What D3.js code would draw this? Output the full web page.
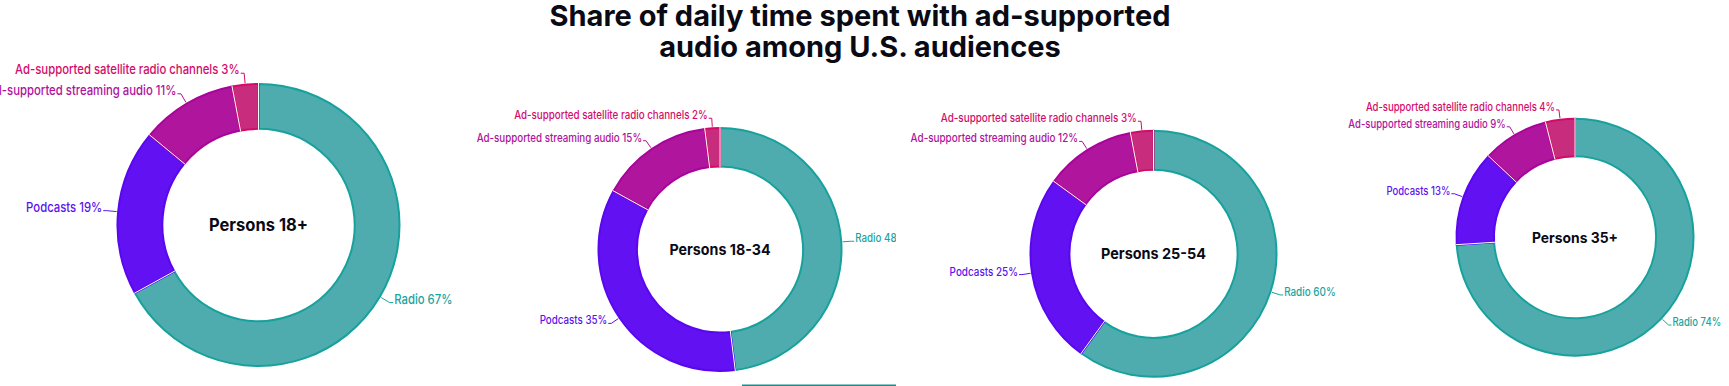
<!DOCTYPE html>
<html>
<head>
<meta charset="utf-8">
<script src="https://cdn.jsdelivr.net/npm/d3@7"></script>
<style>
  html, body { margin: 0; padding: 0; background: #ffffff; }
  svg { display: block; }
  text { font-family: Inter, "Noto Sans", sans-serif; }
</style>
</head>
<body>
<svg id="chart" width="1729" height="386"></svg>
<script>
// ---------------- DATA ----------------
const titleLines = ["Share of daily time spent with ad-supported", "audio among U.S. audiences"];
const categories = ["Radio", "Podcasts", "Ad-supported streaming audio", "Ad-supported satellite radio channels"];
const audiences = ["Persons 18+", "Persons 18-34", "Persons 25-54", "Persons 35+"];
const radio     = [67, 48, 60, 74];
const podcasts  = [19, 35, 25, 13];
const streaming = [11, 15, 12, 9];
const satellite = [3, 2, 3, 4];

// ---------------- STYLE / LAYOUT ----------------
const fills   = ["#4eacae", "#6211f2", "#af159d", "#c82c7c"];
const borders = ["#17a19d", "#5a06ee", "#a8049a", "#d40a6b"];
const labelColors = ["#1ba39e", "#5a12ee", "#b0129c", "#d40b6a"];
const panels = [
  { cx: 258.5, cy: 225,   R: 142,   s: 1.16,  clip: null },
  { cx: 720,   cy: 249.5, R: 122.5, s: 1.0,   clip: [460, 896] },
  { cx: 1153.5,cy: 253.8, R: 124,   s: 1.012, clip: null },
  { cx: 1575,  cy: 237.2, R: 119.5, s: 0.975, clip: null }
];
const labelSqueeze = 0.85;   // horizontal compression of the label glyphs
const centerSqueeze = 0.95;
const innerRatio = 0.67;

const svg = d3.select("#chart");
const defs = svg.append("defs");

// Title
const title = svg.append("g");
titleLines.forEach((t, i) => {
  title.append("text")
    .attr("x", 860)
    .attr("y", 26 + i * 31)
    .attr("text-anchor", "middle")
    .attr("font-size", 29)
    .attr("font-weight", 700)
    .attr("fill", "#0a0a14")
    .text(t);
});

const series = [radio, podcasts, streaming, satellite];
const pie = d3.pie().sort(null).value(d => d.value);

panels.forEach((p, ci) => {
  const data = categories.map((c, k) => ({ name: c, value: series[k][ci], k }));
  const arcsData = pie(data);
  const g = svg.append("g");
  if (p.clip) {
    const id = "clip" + ci;
    defs.append("clipPath").attr("id", id)
      .append("rect").attr("x", p.clip[0]).attr("y", 0)
      .attr("width", p.clip[1] - p.clip[0]).attr("height", 386);
    g.attr("clip-path", `url(#${id})`);
  }
  const cg = g.append("g").attr("transform", `translate(${p.cx},${p.cy})`);
  const rOut = p.R, rIn = p.R * innerRatio;
  const arc = d3.arc().innerRadius(rIn + 1).outerRadius(rOut - 1);

  cg.selectAll("path.slice").data(arcsData).join("path")
    .attr("class", "slice")
    .attr("d", arc)
    .attr("fill", d => fills[d.data.k])
    .attr("stroke", d => borders[d.data.k])
    .attr("stroke-width", 2)
    .attr("stroke-linejoin", "round");

  // white separators at slice boundaries
  cg.selectAll("line.sep").data(arcsData).join("line")
    .attr("class", "sep")
    .attr("x1", d => rIn * Math.sin(d.startAngle))
    .attr("y1", d => -rIn * Math.cos(d.startAngle))
    .attr("x2", d => rOut * Math.sin(d.startAngle))
    .attr("y2", d => -rOut * Math.cos(d.startAngle))
    .attr("stroke", "#ffffff")
    .attr("stroke-width", 1);

  // center label
  cg.append("text")
    .attr("transform", `translate(0,${5.5 * p.s}) scale(${centerSqueeze},1)`)
    .attr("text-anchor", "middle")
    .attr("font-size", 15 * p.s)
    .attr("font-weight", 700)
    .attr("fill", "#0a0a14")
    .text(audiences[ci]);

  // data labels with connectors
  const d0 = 9 * p.s, hseg = 3 * p.s;
  arcsData.forEach(d => {
    const a = (d.startAngle + d.endAngle) / 2;
    const sx = Math.sin(a), sy = -Math.cos(a);
    const ex = (rOut + 0.5) * sx, ey = (rOut + 0.5) * sy;
    const lx = (rOut + d0) * sx, ly = (rOut + d0) * sy;
    const right = sx > 0;
    const dir = right ? 1 : -1;
    const col = labelColors[d.data.k];
    cg.append("path")
      .attr("d", `M${ex},${ey}L${lx},${ly}L${lx + dir * hseg},${ly}`)
      .attr("fill", "none")
      .attr("stroke", col)
      .attr("stroke-width", 1);
    cg.append("text")
      .attr("transform", `translate(${lx + dir * (hseg + 1)},${ly + 1 * p.s}) scale(${labelSqueeze},1)`)
      .attr("text-anchor", right ? "start" : "end")
      .attr("font-size", 11.5 * p.s)
      .attr("font-weight", 500)
      .attr("fill", col)
      .text(`${d.data.name} ${d.data.value}%`);
  });
});

// bottom accent line under the second panel
svg.append("rect")
  .attr("x", 742).attr("y", 384.5)
  .attr("width", 896 - 742).attr("height", 1.5)
  .attr("fill", "#168f8c");
</script>
</body>
</html>
